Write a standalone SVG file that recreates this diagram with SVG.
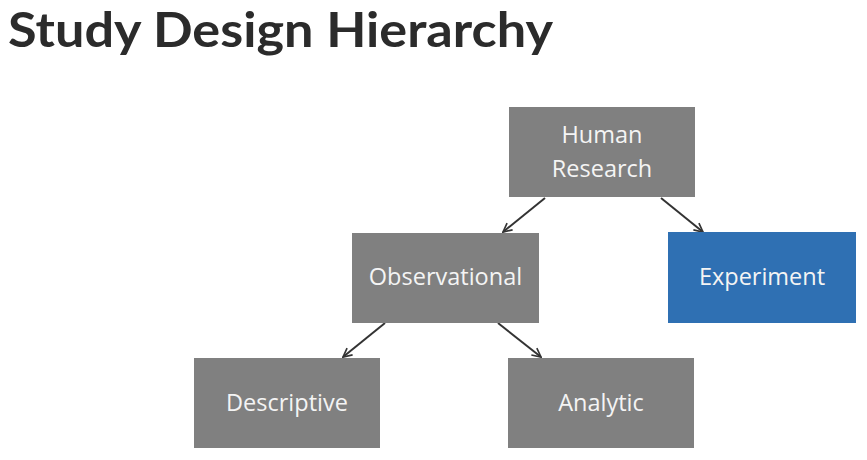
<svg xmlns="http://www.w3.org/2000/svg" width="867" height="460" viewBox="0 0 867 460">
<defs>
<style>
.box{fill:#808080}
.blue{fill:#2f70b3}
.lbl{font-family:"Open Sans",Lato,sans-serif;font-size:23.5px;fill:#f4f4f4;text-anchor:middle}
.title{font-family:Lato,"Open Sans",sans-serif;font-weight:bold;font-size:48px;fill:#2b2b2b}
.conn{stroke:#333;stroke-width:2;fill:none;marker-end:url(#ah)}
</style>
<marker id="ah" viewBox="0 0 10 10" refX="9" refY="5" markerWidth="11" markerHeight="11" orient="auto" markerUnits="userSpaceOnUse">
<path d="M1,1 L9,5 L1,9" fill="none" stroke="#333" stroke-width="1.5"/>
</marker>
</defs>
<rect width="867" height="460" fill="#ffffff"/>
<text class="title" x="8" y="47" textLength="545" lengthAdjust="spacingAndGlyphs">Study Design Hierarchy</text>
<g id="connectors">
<line class="conn" x1="545" y1="198" x2="503" y2="232"/>
<line class="conn" x1="661" y1="198" x2="703" y2="232"/>
<line class="conn" x1="385" y1="323" x2="343" y2="357"/>
<line class="conn" x1="498" y1="323" x2="541" y2="357"/>
</g>
<g id="human-research">
<rect class="box" x="509" y="107" width="186" height="90"/>
<text class="lbl" x="602" y="143">Human</text>
<text class="lbl" x="602" y="177">Research</text>
</g>
<g id="observational">
<rect class="box" x="352" y="233" width="187" height="90"/>
<text class="lbl" x="445.5" y="285">Observational</text>
</g>
<g id="experiment">
<rect class="blue" x="668" y="232" width="188" height="91"/>
<text class="lbl" x="762" y="285">Experiment</text>
</g>
<g id="descriptive">
<rect class="box" x="194" y="358" width="186" height="90"/>
<text class="lbl" x="287" y="411">Descriptive</text>
</g>
<g id="analytic">
<rect class="box" x="508" y="358" width="186" height="90"/>
<text class="lbl" x="601" y="411">Analytic</text>
</g>
</svg>
